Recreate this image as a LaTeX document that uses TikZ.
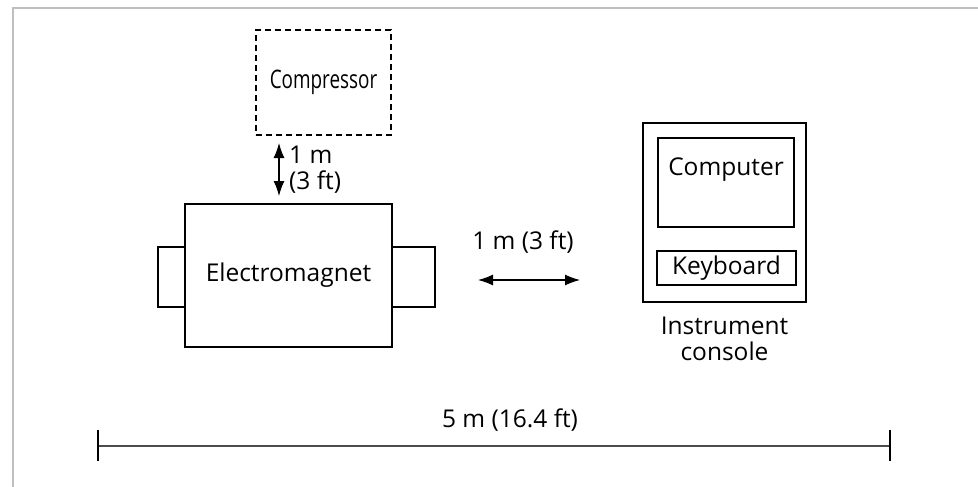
\documentclass[tikz,border=0pt]{standalone}
\usepackage{fontspec}
\setmainfont{Open Sans}
\usepackage{tikz}
\usetikzlibrary{arrows.meta,calc,positioning}

\begin{document}
\begin{tikzpicture}[x=1pt, y=-1pt,
  every node/.style={font=\fontsize{24.5}{26}\selectfont, inner sep=0pt},
  unit/.style={draw, line width=2pt, fill=white},
  dim/.style={{Latex[length=15pt,width=11pt]}-{Latex[length=15pt,width=11pt]}, line width=1.2pt}]

\useasboundingbox (0,0) rectangle (978,487);
\fill[white] (0,0) rectangle (978,487);
\draw[gray!50, line width=1.5pt] (978,8) -- (13,8) -- (13,487);

% Kompressor und Magnet
\node[unit, dashed, dash pattern=on 6pt off 4pt, line width=2.3pt, minimum width=135pt, minimum height=105pt] (comp) at (323.5,82.5) {};
\node[xscale=0.74, font=\fontsize{25.5}{26}\selectfont] (complbl) at (323.5,82) {Compressor};
\node[unit, minimum width=27pt, minimum height=60pt] (tabl) at (171.5,277) {};
\node[unit, minimum width=43pt, minimum height=60pt] (tabr) at (413.5,277) {};
\node[unit, minimum width=207pt, minimum height=143pt] (magnet) at (288.5,275.5) {Electromagnet};

% Konsole
\node[unit, minimum width=163pt, minimum height=179pt] (console) at (724.5,212.5) {};
\node[unit, minimum width=136pt, minimum height=89pt] (pc) at (726,182.5) {};
\node (pclbl) at (726,170) {Computer};
\node[unit, minimum width=139pt, minimum height=34pt] (kbd) at (726.5,268) {Keyboard};
\node[align=center] (conslbl) at (724.5,339) {Instrument\\console};

% Abstaende
\coordinate (va) at (279,143);
\coordinate (vb) at (279,196);
\draw[dim] (va) -- (vb);
\node[align=left, anchor=west] (vlbl) at (289,170) {1 m\\(3 ft)};

\coordinate (ha) at (478,280);
\coordinate (hb) at (580,280);
\draw[dim] (ha) -- (hb);
\node (hlbl) at (523,242) {1 m (3 ft)};

% Gesamtlaenge
\coordinate (dl) at (98,446);
\coordinate (dr) at (890,446);
\draw[black!70, line width=1.5pt] (dl) -- (dr);
\draw[line width=1.5pt] ($(dl)+(0,-16)$) -- ($(dl)+(0,15)$);
\draw[line width=1.5pt] ($(dr)+(0,-16)$) -- ($(dr)+(0,15)$);
\node (dlbl) at (510,420) {5 m (16.4 ft)};

\end{tikzpicture}
\end{document}
